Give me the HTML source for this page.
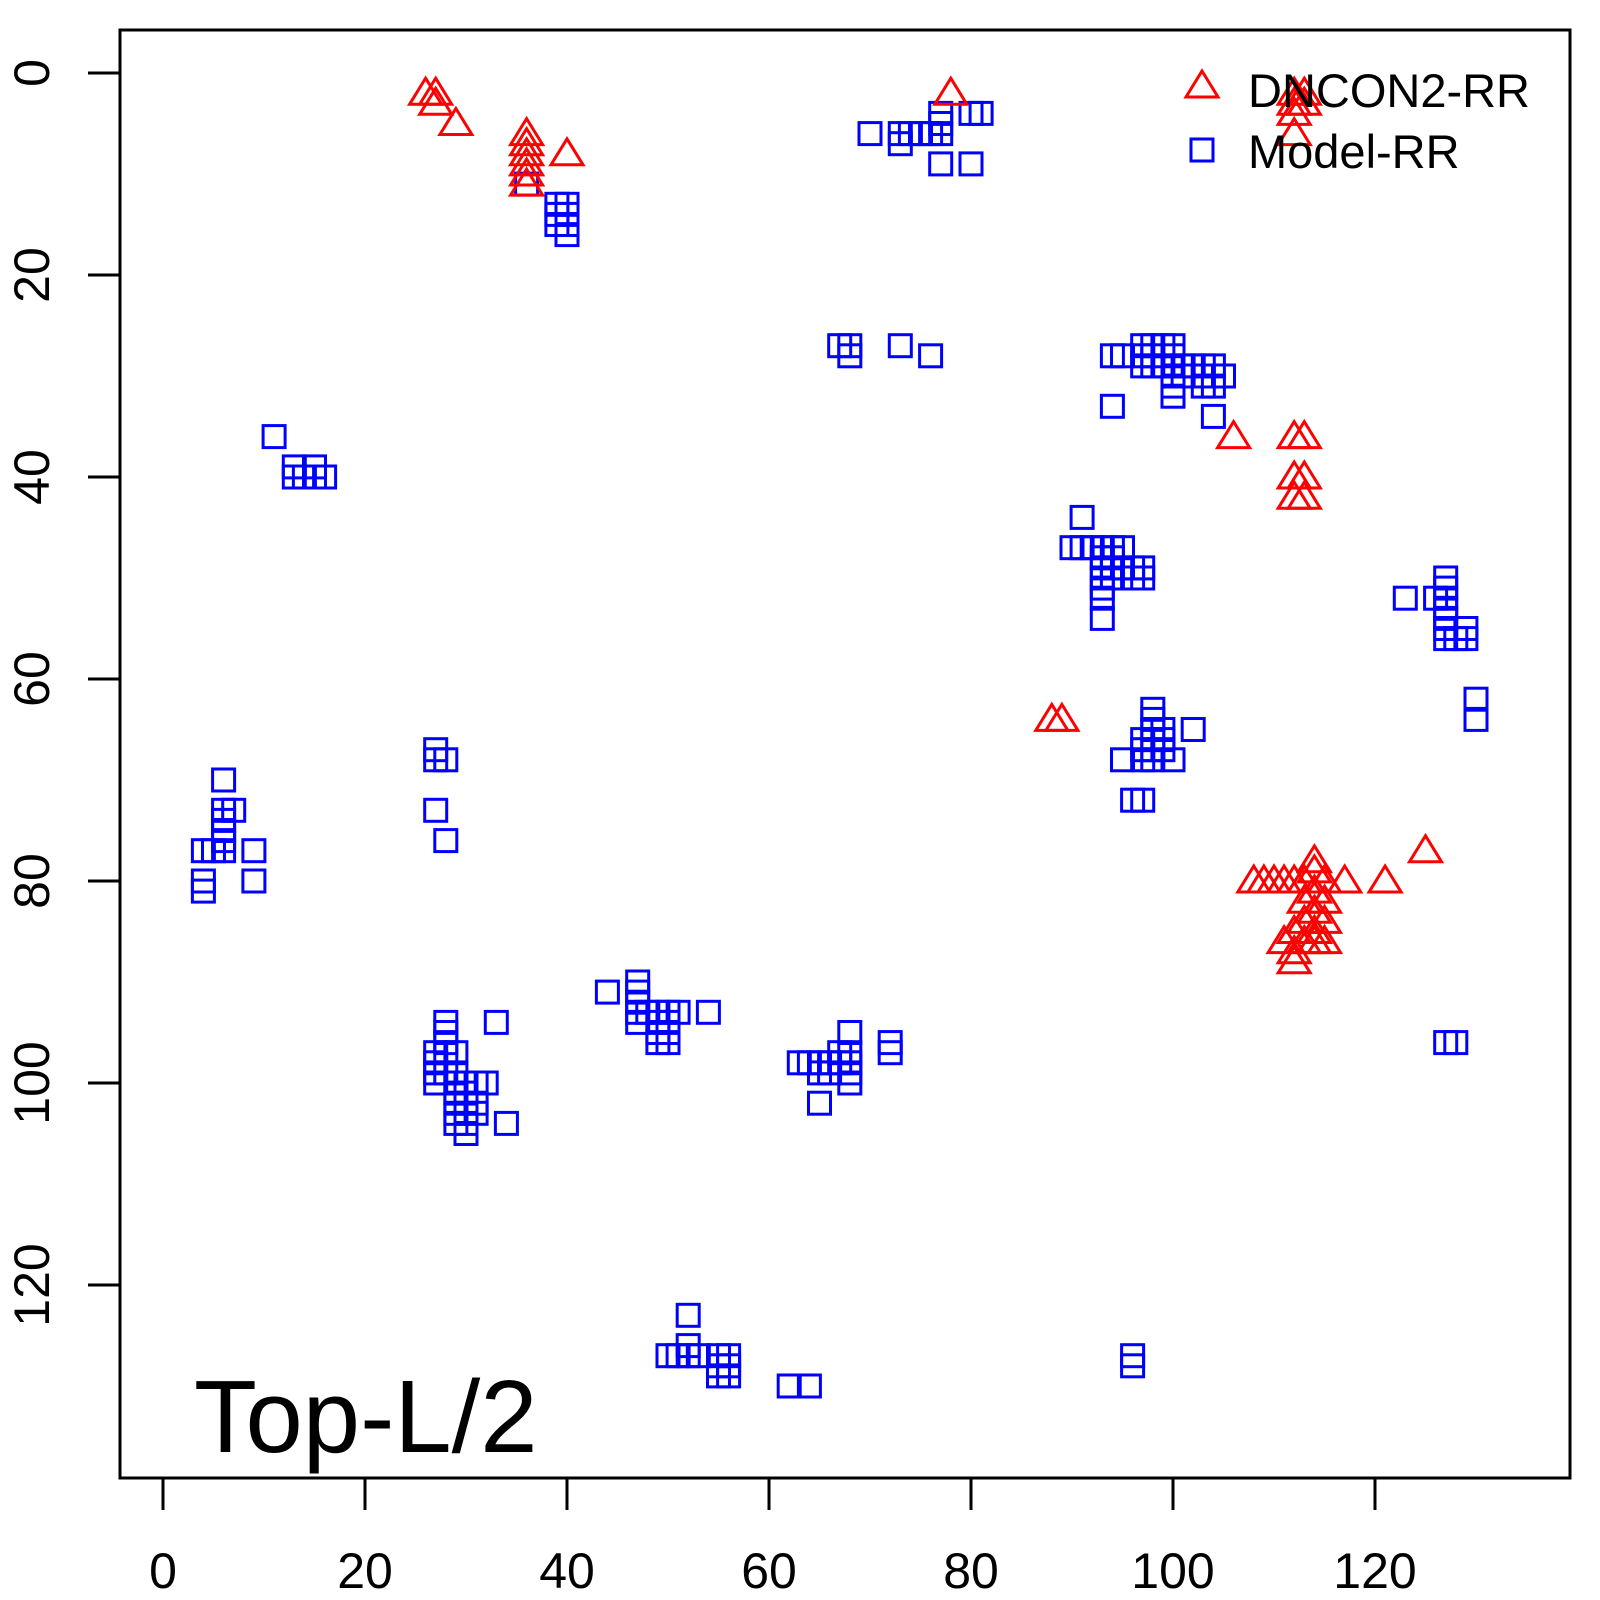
<!DOCTYPE html>
<html><head><meta charset="utf-8"><style>
html,body{margin:0;padding:0;background:#fff;}
svg{display:block;}
text{font-family:"Liberation Sans",sans-serif;}
</style></head><body>
<svg id="s" width="1600" height="1600" viewBox="0 0 1600 1600" xmlns="http://www.w3.org/2000/svg">
<rect x="120" y="30" width="1450" height="1448" fill="none" stroke="#000" stroke-width="3"/>
<g stroke="#000" stroke-width="3">
<line x1="163" y1="1478" x2="163" y2="1510"/><line x1="365" y1="1478" x2="365" y2="1510"/><line x1="567" y1="1478" x2="567" y2="1510"/><line x1="769" y1="1478" x2="769" y2="1510"/><line x1="971" y1="1478" x2="971" y2="1510"/><line x1="1173" y1="1478" x2="1173" y2="1510"/><line x1="1375" y1="1478" x2="1375" y2="1510"/>
<line x1="163" y1="1478" x2="1375" y2="1478"/>
<line x1="88" y1="73" x2="120" y2="73"/><line x1="88" y1="275" x2="120" y2="275"/><line x1="88" y1="477" x2="120" y2="477"/><line x1="88" y1="679" x2="120" y2="679"/><line x1="88" y1="881" x2="120" y2="881"/><line x1="88" y1="1083" x2="120" y2="1083"/><line x1="88" y1="1285" x2="120" y2="1285"/>
</g>
<g font-size="50" text-anchor="middle" fill="#000">
<text x="163" y="1588">0</text><text x="365" y="1588">20</text><text x="567" y="1588">40</text><text x="769" y="1588">60</text><text x="971" y="1588">80</text><text x="1173" y="1588">100</text><text x="1375" y="1588">120</text>
<text transform="translate(49,73) rotate(-90)">0</text>
<text transform="translate(49,275) rotate(-90)">20</text>
<text transform="translate(49,477) rotate(-90)">40</text>
<text transform="translate(49,679) rotate(-90)">60</text>
<text transform="translate(49,881) rotate(-90)">80</text>
<text transform="translate(49,1083) rotate(-90)">100</text>
<text transform="translate(49,1285) rotate(-90)">120</text>
</g>
<text x="194" y="1452" font-size="103" fill="#000">Top-L/2</text>
<g id="pts" fill="none" stroke-width="3"></g>
<g fill="none" stroke-width="3">
<polygon points="1202,71 1218,97 1186,97" stroke="#f00"/>
<rect x="1191" y="139" width="22" height="22" stroke="#00f"/>
</g>
<text x="1248" y="107" font-size="47" fill="#000">DNCON2-RR</text>
<text x="1248" y="168" font-size="47" fill="#000">Model-RR</text>
</svg>
<script>
var T=[[26,2],[27,2],[27,3],[29,5],[36,6],[36,7],[36,8],[36,9],[36,10],[36,11],[40,8],[78,2],[112,2],[113,2],[112,3],[113,3],[112,4],[112,6],[106,36],[112,36],[113,36],[112,40],[113,40],[112,42],[113,42],[88,64],[89,64],[125,77],[121,80],[117,80],[108,80],[109,80],[110,80],[111,80],[112,80],[113,80],[114,78],[114,79],[115,80],[114,81],[115,82],[114,83],[115,84],[113,84],[112,85],[113,86],[114,86],[115,86],[111,86],[112,87],[112,88],[114,85],[113,82]];
var S=[[36,11],[39,13],[40,13],[39,14],[40,14],[39,15],[40,15],[40,16],
[70,6],[73,6],[74,6],[73,7],[75,6],[76,6],[77,6],[77,5],[77,4],[77,9],[80,4],[81,4],[80,9],
[67,27],[68,27],[68,28],[73,27],[76,28],
[94,28],[95,28],[97,27],[97,28],[97,29],[98,27],[98,29],[99,27],[100,27],[100,28],[100,29],[100,30],[100,31],[100,32],[101,29],[101,30],[102,29],[103,29],[103,30],[103,31],[104,29],[104,31],[105,30],[104,34],[94,33],[99,29],[98,28],
[11,36],[13,40],[14,40],[15,40],[16,40],[15,39],[13,39],
[91,44],[90,47],[91,47],[92,47],[93,47],[94,47],[95,47],[93,48],[94,48],[93,49],[94,49],[95,49],[93,50],[94,50],[96,49],[97,49],[96,50],[97,50],[93,51],[93,52],[93,54],
[123,52],[126,52],[127,50],[127,51],[127,52],[127,53],[127,54],[127,55],[127,56],[128,56],[129,55],[129,56],[130,62],[130,64],
[98,63],[98,64],[98,65],[97,66],[98,66],[99,65],[99,66],[97,67],[98,67],[99,67],[97,68],[95,68],[98,68],[100,68],[102,65],[96,72],[97,72],
[6,70],[6,73],[7,73],[6,74],[6,75],[6,76],[6,77],[4,77],[5,77],[9,77],[4,80],[4,81],[9,80],
[27,67],[27,68],[28,68],[27,73],[28,76],
[47,90],[47,91],[44,91],[47,92],[47,93],[48,93],[49,93],[50,93],[51,93],[54,93],[47,94],[49,94],[50,94],[49,95],[50,95],[49,96],[50,96],
[28,94],[28,95],[28,96],[27,97],[28,97],[29,97],[27,98],[27,99],[28,99],[29,99],[27,100],[29,100],[30,100],[31,100],[32,100],[29,101],[30,101],[29,102],[30,102],[31,102],[29,103],[30,103],[31,103],[29,104],[30,104],[30,105],[33,94],[34,104],
[68,95],[67,97],[68,97],[66,98],[67,98],[68,98],[63,98],[64,98],[65,98],[66,99],[65,99],[68,99],[68,100],[65,102],[72,96],[72,97],
[52,123],[52,126],[50,127],[51,127],[52,127],[53,127],[55,127],[56,127],[55,128],[56,128],[55,129],[56,129],[62,130],[64,130],
[96,127],[96,128],[127,96],[128,96]];
var g=document.getElementById('pts'),h='';
function X(v){return 163+10.1*v}function Y(v){return 73+10.1*v}
S.forEach(function(p){var x=X(p[0]),y=Y(p[1]);h+='<rect x="'+(x-11)+'" y="'+(y-11)+'" width="22" height="22" stroke="#00f"/>';});
T.forEach(function(p){var x=X(p[0]),y=Y(p[1]);h+='<polygon points="'+x+','+(y-15)+' '+(x+16)+','+(y+11)+' '+(x-16)+','+(y+11)+'" stroke="#f00"/>';});
g.innerHTML=h;
</script>
</body></html>
